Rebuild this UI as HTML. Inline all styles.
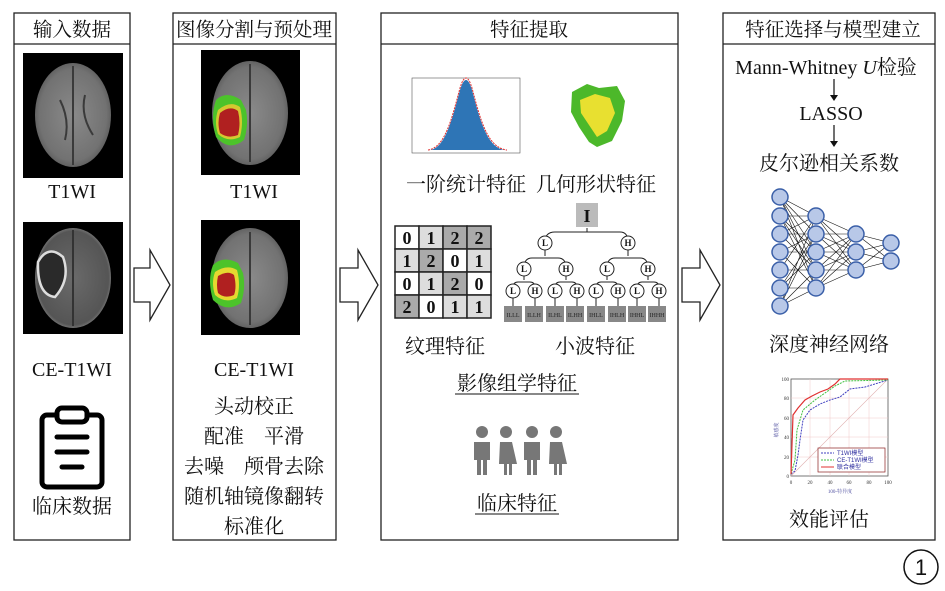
<!DOCTYPE html>
<html><head><meta charset="utf-8"><style>
body{margin:0;background:#fff;}
svg{display:block;font-family:"Liberation Serif","Noto Serif CJK SC",serif;}
</style></head><body>
<svg width="945" height="591" viewBox="0 0 945 591" xmlns="http://www.w3.org/2000/svg">
<defs>
<radialGradient id="br" cx="50%" cy="50%" r="55%"><stop offset="0" stop-color="#8a8a8a"/><stop offset="0.8" stop-color="#727272"/><stop offset="1" stop-color="#555"/></radialGradient>
<radialGradient id="br2" cx="50%" cy="50%" r="55%"><stop offset="0" stop-color="#6a6a6a"/><stop offset="0.85" stop-color="#555"/><stop offset="1" stop-color="#999"/></radialGradient>
</defs>
<g fill="none" stroke="#222" stroke-width="1.3">
<rect x="14" y="13" width="116" height="527"/><line x1="14" y1="44" x2="130" y2="44"/>
<rect x="173" y="13" width="163" height="527"/><line x1="173" y1="44" x2="336" y2="44"/>
<rect x="381" y="13" width="297" height="527"/><line x1="381" y1="44" x2="678" y2="44"/>
<rect x="723" y="13" width="212" height="527"/><line x1="723" y1="44" x2="935" y2="44"/>
</g>
<g font-size="19.5" fill="#111" text-anchor="middle">
<text x="72" y="36">输入数据</text>
<text x="254" y="36">图像分割与预处理</text>
<text x="529" y="36">特征提取</text>
<text x="833" y="36">特征选择与模型建立</text>
</g>
<g fill="#fff" stroke="#222" stroke-width="1.3">
<path d="M134 268 H150 V250 L170 285 L150 320 V302 H134 Z"/>
<path d="M340 268 H358 V250 L378 285 L358 320 V302 H340 Z"/>
<path d="M682 268 H700 V250 L720 285 L700 320 V302 H682 Z"/>
</g>
<rect x="23" y="53" width="100" height="125" fill="#000"/>
<ellipse cx="73" cy="115" rx="38" ry="52" fill="url(#br)"/>
<path d="M73 66 V165 M60 100 q10 20 5 40 M85 95 q-5 20 8 40" stroke="#3a3a3a" stroke-width="2" fill="none"/>
<rect x="23" y="222" width="100" height="112" fill="#000"/>
<ellipse cx="73" cy="278" rx="38" ry="50" fill="url(#br2)"/>
<path d="M38 262 q10 -18 25 -5 q8 22 -8 40 q-18 -2 -17 -35z" stroke="#ddd" stroke-width="2.5" fill="#2a2a2a"/>
<path d="M73 230 V326" stroke="#333" stroke-width="2"/>
<rect x="201" y="50" width="99" height="125" fill="#000"/>
<ellipse cx="250" cy="113" rx="38" ry="52" fill="url(#br)"/>
<path d="M250 64 V162" stroke="#3a3a3a" stroke-width="2"/>
<path d="M216 100 q10 -10 25 0 l5 10 q3 15 -2 30 q-15 12 -28 -3 q-6 -20 0 -37z" fill="#4cc32a"/>
<path d="M218 110 q12 -10 22 -3 q4 15 0 30 q-12 6 -22 -3 q-4 -12 0 -24z" fill="#d5c830"/>
<path d="M220 113 q10 -8 18 -2 q3 12 0 24 q-10 4 -18 -2 q-3 -10 0 -20z" fill="#b02020"/>
<rect x="201" y="220" width="99" height="115" fill="#000"/>
<ellipse cx="250" cy="278" rx="38" ry="50" fill="url(#br)"/>
<path d="M250 232 V325" stroke="#3a3a3a" stroke-width="2"/>
<path d="M213 265 q10 -10 25 -2 l5 10 q3 15 -2 30 q-15 10 -28 -3 q-6 -20 0 -35z" fill="#4cc32a"/>
<path d="M215 272 q12 -8 22 -2 q4 15 0 28 q-12 6 -22 -3 q-4 -12 0 -23z" fill="#e5d830"/>
<path d="M218 276 q10 -6 16 -1 q3 12 0 20 q-10 4 -16 -2 q-2 -8 0 -17z" fill="#b02020"/>
<g fill="none" stroke="#000" stroke-width="5" stroke-linecap="round">
<rect x="42" y="415" width="60" height="72" rx="5"/>
<rect x="57" y="408" width="30" height="14" rx="5" fill="#fff"/>
<line x1="57" y1="437" x2="87" y2="437"/><line x1="57" y1="452" x2="87" y2="452"/><line x1="62" y1="467" x2="82" y2="467"/>
</g>
<g font-size="20" fill="#111" text-anchor="middle">
<text x="72" y="198">T1WI</text>
<text x="72" y="376">CE-T1WI</text>
<text x="72" y="513">临床数据</text>
<text x="254" y="198">T1WI</text>
<text x="254" y="376">CE-T1WI</text>
<text x="254" y="413">头动校正</text>
<text x="254" y="443">配准　平滑</text>
<text x="254" y="473">去噪　颅骨去除</text>
<text x="254" y="503">随机轴镜像翻转</text>
<text x="254" y="533">标准化</text>
</g>
<g>
<rect x="412" y="78" width="108" height="75" fill="none" stroke="#555" stroke-width="0.6"/>
<path d="M430 150 C445 148 452 120 460 90 Q466 70 472 90 C480 120 487 148 505 150 Z" fill="#2e75b6"/>
<path d="M428 150 C445 148 452 118 460 88 Q466 68 472 88 C480 118 487 148 507 150" fill="none" stroke="#e03030" stroke-width="1" stroke-dasharray="2,1"/>
</g>
<path d="M572 92 l15 -8 l12 4 l18 -2 l8 15 l-3 20 l-10 20 l-15 6 l-8 -5 l-10 -15 l-8 -15z" fill="#4cb82a"/>
<path d="M580 100 l15 -6 l15 4 l5 15 l-8 18 l-10 6 l-8 -12 l-8 -12z" fill="#e8e030"/>
<g stroke="#222" stroke-width="1.5" font-size="18" font-weight="bold" text-anchor="middle">
<rect x="395" y="226" width="24" height="23" fill="#fff"/><rect x="419" y="226" width="24" height="23" fill="#ddd"/><rect x="443" y="226" width="24" height="23" fill="#aaa"/><rect x="467" y="226" width="24" height="23" fill="#aaa"/>
<rect x="395" y="249" width="24" height="23" fill="#ddd"/><rect x="419" y="249" width="24" height="23" fill="#aaa"/><rect x="443" y="249" width="24" height="23" fill="#fff"/><rect x="467" y="249" width="24" height="23" fill="#ddd"/>
<rect x="395" y="272" width="24" height="23" fill="#fff"/><rect x="419" y="272" width="24" height="23" fill="#ddd"/><rect x="443" y="272" width="24" height="23" fill="#aaa"/><rect x="467" y="272" width="24" height="23" fill="#fff"/>
<rect x="395" y="295" width="24" height="23" fill="#aaa"/><rect x="419" y="295" width="24" height="23" fill="#fff"/><rect x="443" y="295" width="24" height="23" fill="#ddd"/><rect x="467" y="295" width="24" height="23" fill="#ddd"/>
<g stroke="none" fill="#111">
<text x="407" y="244">0</text><text x="431" y="244">1</text><text x="455" y="244">2</text><text x="479" y="244">2</text>
<text x="407" y="267">1</text><text x="431" y="267">2</text><text x="455" y="267">0</text><text x="479" y="267">1</text>
<text x="407" y="290">0</text><text x="431" y="290">1</text><text x="455" y="290">2</text><text x="479" y="290">0</text>
<text x="407" y="313">2</text><text x="431" y="313">0</text><text x="455" y="313">1</text><text x="479" y="313">1</text>
</g></g>
<g stroke="#222" stroke-width="1" fill="none">
<path d="M587 228 V232 M545 242 Q545 232 555 232 H620 Q628 232 628 242"/>
<path d="M545 250 V256 M524 268 Q524 258 532 258 H558 Q566 258 566 268"/>
<path d="M628 250 V256 M607 268 Q607 258 615 258 H640 Q648 258 648 268"/>
<path d="M524 276 V280 M513 288 Q513 282 518 282 H530 Q535 282 535 288"/>
<path d="M566 276 V280 M555 288 Q555 282 560 282 H572 Q577 282 577 288"/>
<path d="M607 276 V280 M596 288 Q596 282 601 282 H613 Q618 282 618 288"/>
<path d="M648 276 V280 M637 288 Q637 282 642 282 H654 Q659 282 659 288"/>
<path d="M513 298 V306 M535 298 V306 M555 298 V306 M577 298 V306 M596 298 V306 M618 298 V306 M637 298 V306 M659 298 V306"/>
</g>
<rect x="576" y="203" width="22" height="24" fill="#bbb"/>
<text x="587" y="222" font-size="18" font-weight="bold" text-anchor="middle" fill="#111">I</text>
<g stroke="#222" stroke-width="1" fill="#fff">
<circle cx="545" cy="243" r="7"/><circle cx="628" cy="243" r="7"/>
<circle cx="524" cy="269" r="7"/><circle cx="566" cy="269" r="7"/><circle cx="607" cy="269" r="7"/><circle cx="648" cy="269" r="7"/>
<circle cx="513" cy="291" r="7"/><circle cx="535" cy="291" r="7"/><circle cx="555" cy="291" r="7"/><circle cx="577" cy="291" r="7"/><circle cx="596" cy="291" r="7"/><circle cx="618" cy="291" r="7"/><circle cx="637" cy="291" r="7"/><circle cx="659" cy="291" r="7"/>
</g>
<g font-size="9" font-weight="bold" text-anchor="middle" fill="#111">
<text x="545" y="246">L</text><text x="628" y="246">H</text>
<text x="524" y="272">L</text><text x="566" y="272">H</text><text x="607" y="272">L</text><text x="648" y="272">H</text>
<text x="513" y="294">L</text><text x="535" y="294">H</text><text x="555" y="294">L</text><text x="577" y="294">H</text><text x="596" y="294">L</text><text x="618" y="294">H</text><text x="637" y="294">L</text><text x="659" y="294">H</text>
</g>
<g fill="#888">
<rect x="504" y="306" width="18" height="16"/><rect x="525" y="306" width="18" height="16"/><rect x="546" y="306" width="18" height="16"/><rect x="566" y="306" width="18" height="16"/><rect x="587" y="306" width="18" height="16"/><rect x="608" y="306" width="18" height="16"/><rect x="628" y="306" width="18" height="16"/><rect x="648" y="306" width="18" height="16"/>
</g>
<g font-size="6" fill="#222" text-anchor="middle">
<text x="513" y="317">ILLL</text><text x="534" y="317">ILLH</text><text x="555" y="317">ILHL</text><text x="575" y="317">ILHH</text><text x="596" y="317">IHLL</text><text x="617" y="317">IHLH</text><text x="637" y="317">IHHL</text><text x="657" y="317">IHHH</text>
</g>
<g fill="#777">
<circle cx="482" cy="432" r="6"/><path d="M474 442 h16 v18 h-3 v15 h-4 v-15 h-2 v15 h-4 v-15 h-3z"/>
<circle cx="506" cy="432" r="6"/><path d="M500 442 h12 l5 22 h-5 v11 h-3 v-11 h-2 v11 h-3 v-11 h-5z"/>
<circle cx="532" cy="432" r="6"/><path d="M524 442 h16 v18 h-3 v15 h-4 v-15 h-2 v15 h-4 v-15 h-3z"/>
<circle cx="556" cy="432" r="6"/><path d="M550 442 h12 l5 22 h-5 v11 h-3 v-11 h-2 v11 h-3 v-11 h-5z"/>
</g>
<g font-size="20" fill="#111" text-anchor="middle">
<text x="466" y="191">一阶统计特征</text>
<text x="596" y="191">几何形状特征</text>
<text x="445" y="353">纹理特征</text>
<text x="595" y="353">小波特征</text>
<text x="517" y="390">影像组学特征</text>
<text x="517" y="510">临床特征</text>
</g>
<line x1="455" y1="394" x2="579" y2="394" stroke="#111" stroke-width="1"/>
<line x1="475" y1="514" x2="559" y2="514" stroke="#111" stroke-width="1"/>
<g font-size="20" fill="#111" text-anchor="middle">
<text x="826" y="74">Mann-Whitney <tspan font-style="italic">U</tspan>检验</text>
<text x="831" y="120">LASSO</text>
<text x="829" y="170">皮尔逊相关系数</text>
<text x="829" y="351">深度神经网络</text>
<text x="829" y="526">效能评估</text>
</g>
<g stroke="#111" stroke-width="1.2"><line x1="834" y1="79" x2="834" y2="96"/><line x1="834" y1="125" x2="834" y2="142"/></g>
<path d="M830 95 L838 95 L834 101Z M830 141 L838 141 L834 147Z" fill="#111"/>
<g stroke="#111" stroke-width="0.6">
<path d="M780 197 L816 216 M780 197 L816 234 M780 197 L816 252 M780 197 L816 270 M780 197 L816 288 M780 216 L816 216 M780 216 L816 252 M780 216 L816 288 M780 234 L816 216 M780 234 L816 234 M780 234 L816 270 M780 252 L816 234 M780 252 L816 252 M780 252 L816 288 M780 270 L816 216 M780 270 L816 270 M780 288 L816 252 M780 288 L816 288 M780 306 L816 216 M780 306 L816 234 M780 306 L816 270 M780 306 L816 288 M780 216 L816 270 M780 288 L816 234"/>
<path d="M816 216 L856 234 M816 216 L856 252 M816 216 L856 270 M816 234 L856 234 M816 234 L856 252 M816 234 L856 270 M816 252 L856 234 M816 252 L856 252 M816 252 L856 270 M816 270 L856 234 M816 270 L856 252 M816 270 L856 270 M816 288 L856 234 M816 288 L856 252 M816 288 L856 270"/>
<path d="M856 234 L891 243 M856 234 L891 261 M856 252 L891 243 M856 252 L891 261 M856 270 L891 243 M856 270 L891 261"/>
</g>
<g fill="#b8c8e8" stroke="#3a5fa8" stroke-width="1.5">
<circle cx="780" cy="197" r="8"/><circle cx="780" cy="216" r="8"/><circle cx="780" cy="234" r="8"/><circle cx="780" cy="252" r="8"/><circle cx="780" cy="270" r="8"/><circle cx="780" cy="288" r="8"/><circle cx="780" cy="306" r="8"/>
<circle cx="816" cy="216" r="8"/><circle cx="816" cy="234" r="8"/><circle cx="816" cy="252" r="8"/><circle cx="816" cy="270" r="8"/><circle cx="816" cy="288" r="8"/>
<circle cx="856" cy="234" r="8"/><circle cx="856" cy="252" r="8"/><circle cx="856" cy="270" r="8"/>
<circle cx="891" cy="243" r="8"/><circle cx="891" cy="261" r="8"/>
</g>
<g>
<rect x="791" y="379" width="97" height="97" fill="#fff" stroke="#555" stroke-width="0.8"/>
<g stroke="#f0c8c8" stroke-width="0.5">
<line x1="810" y1="379" x2="810" y2="476"/><line x1="830" y1="379" x2="830" y2="476"/><line x1="849" y1="379" x2="849" y2="476"/><line x1="869" y1="379" x2="869" y2="476"/>
<line x1="791" y1="398" x2="888" y2="398"/><line x1="791" y1="418" x2="888" y2="418"/><line x1="791" y1="437" x2="888" y2="437"/><line x1="791" y1="457" x2="888" y2="457"/>
</g>
<line x1="791" y1="476" x2="888" y2="379" stroke="#e0b0b0" stroke-width="0.6"/>
<path d="M791 474 L795 471 L798 455 L800 440 L803 420 L810 410 L820 404 L830 400 L840 397 L850 389 L865 387 L888 380" fill="none" stroke="#4040c0" stroke-width="1" stroke-dasharray="2,1"/>
<path d="M791 474 L795 460 L797 430 L803 410 L815 400 L825 393 L835 386 L845 381 L888 380" fill="none" stroke="#40c040" stroke-width="1" stroke-dasharray="2,1"/>
<path d="M791 474 L793 415 L798 408 L805 400 L812 396 L820 392 L828 389 L835 384 L840 379 L888 379" fill="none" stroke="#e03030" stroke-width="1.2"/>
<rect x="818" y="448" width="67" height="24" fill="#fff" stroke="#8b2020" stroke-width="0.7"/>
<g font-size="6" font-family="Liberation Sans,Noto Sans CJK SC,sans-serif">
<line x1="821" y1="453" x2="834" y2="453" stroke="#4040c0" stroke-dasharray="2,1"/><text x="837" y="455" fill="#3030a0">T1WI模型</text>
<line x1="821" y1="460" x2="834" y2="460" stroke="#40c040" stroke-dasharray="2,1"/><text x="837" y="462" fill="#3030a0">CE-T1WI模型</text>
<line x1="821" y1="467" x2="834" y2="467" stroke="#e03030"/><text x="837" y="469" fill="#3030a0">联合模型</text>
</g>
<g font-size="5" fill="#333" text-anchor="end"><text x="789" y="381">100</text><text x="789" y="400">80</text><text x="789" y="420">60</text><text x="789" y="439">40</text><text x="789" y="459">20</text><text x="789" y="478">0</text></g>
<g font-size="5" fill="#333" text-anchor="middle"><text x="791" y="484">0</text><text x="810" y="484">20</text><text x="830" y="484">40</text><text x="849" y="484">60</text><text x="869" y="484">80</text><text x="888" y="484">100</text></g>
<text x="840" y="493" font-size="5" fill="#5050a0" text-anchor="middle">100-特异度</text>
<text x="778" y="430" font-size="5" fill="#5050a0" text-anchor="middle" transform="rotate(-90 778 430)">敏感度</text>
</g>
<circle cx="921" cy="567" r="17" fill="none" stroke="#111" stroke-width="1.5"/>
<text x="921" y="575" font-size="22" text-anchor="middle" font-family="Liberation Sans,sans-serif" fill="#111">1</text>
</svg>
</body></html>
